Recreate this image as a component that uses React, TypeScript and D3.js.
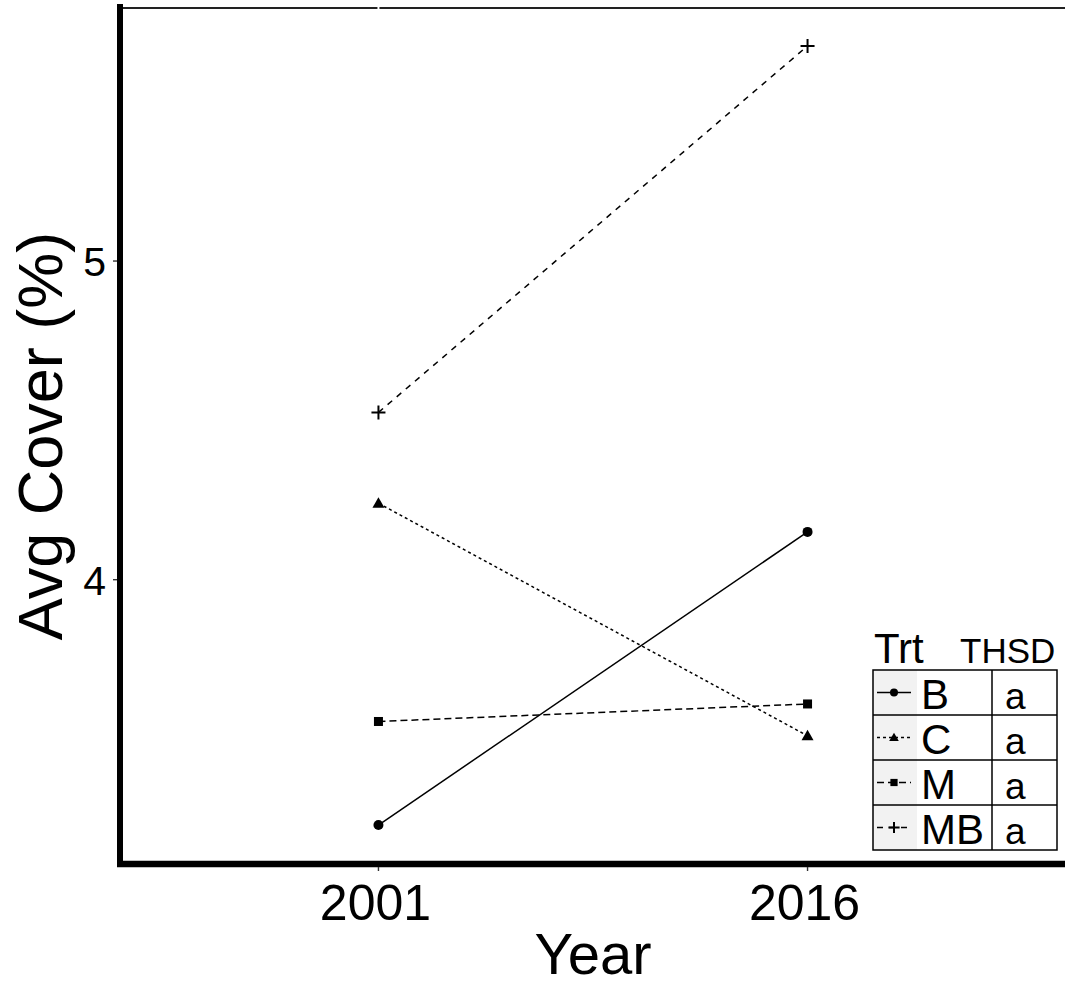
import React, { useEffect, useRef } from 'react';
import * as d3 from 'd3';

// values
const years = ['2001', '2016'];
const treatments = ['B', 'C', 'M', 'MB'];
const thsdGroups = ['a', 'a', 'a', 'a'];
const coverB = [3.23, 4.15];
const coverC = [4.24, 3.51];
const coverM = [3.555, 3.61];
const coverMB = [4.525, 5.675];
const yTickValues = [4, 5];

const FONT = '"Liberation Sans", Arial, Helvetica, sans-serif';

const App = () => {
    const svgRef = useRef<SVGSVGElement>(null);

    useEffect(() => {
        const width = 1065;
        const height = 987;
        const panel = { left: 121, right: 1065, top: 7, bottom: 864 };

        const svg = d3.select(svgRef.current);
        svg.selectAll('*').remove();
        svg.attr('width', width).attr('height', height);

        const series = [
            { name: 'B', values: coverB, dash: null, shape: 'circle' },
            { name: 'C', values: coverC, dash: '3,3', shape: 'triangle' },
            { name: 'M', values: coverM, dash: '7,4', shape: 'square' },
            { name: 'MB', values: coverMB, dash: '6,6', shape: 'plus' }
        ];

        //x scale, ggplot style discrete expansion
        const xScale = d3.scalePoint<string>()
            .domain(years)
            .range([panel.left, panel.right])
            .padding(0.6);

        //y scale with 5% expansion on both sides
        const all = series.flatMap(s => s.values);
        const lo = d3.min(all)!;
        const hi = d3.max(all)!;
        const pad = (hi - lo) * 0.05;
        const yScale = d3.scaleLinear()
            .domain([lo - pad, hi + pad])
            .range([panel.bottom, panel.top]);

        //top border line
        svg.append('line')
            .attr('x1', panel.left).attr('x2', panel.right)
            .attr('y1', panel.top + 1).attr('y2', panel.top + 1)
            .attr('stroke', '#222').attr('stroke-width', 2);

        //white major grid line (only visible where it crosses the border)
        svg.append('line')
            .attr('x1', xScale(years[0])!).attr('x2', xScale(years[0])!)
            .attr('y1', panel.top - 2).attr('y2', panel.top + 4)
            .attr('stroke', '#fff').attr('stroke-width', 2);

        const drawShape = (g: any, shape: string, x: number, y: number, s: number) => {
            if (shape === 'circle') {
                g.append('circle').attr('cx', x).attr('cy', y).attr('r', s / 2).attr('fill', '#000');
            } else if (shape === 'triangle') {
                g.append('path')
                    .attr('d', `M${x},${y - s * 0.6}L${x + s * 0.6},${y + s * 0.45}L${x - s * 0.6},${y + s * 0.45}Z`)
                    .attr('fill', '#000');
            } else if (shape === 'square') {
                g.append('rect')
                    .attr('x', x - s * 0.45).attr('y', y - s * 0.45)
                    .attr('width', s * 0.9).attr('height', s * 0.9)
                    .attr('fill', '#000');
            } else {
                const r = s * 0.7;
                g.append('path')
                    .attr('d', `M${x - r},${y}H${x + r}M${x},${y - r}V${y + r}`)
                    .attr('stroke', '#000').attr('stroke-width', 2).attr('fill', 'none');
            }
        };

        //lines and points
        const line = d3.line<number>()
            .x((_, i) => xScale(years[i])!)
            .y(d => yScale(d));

        series.forEach(s => {
            svg.append('path')
                .datum(s.values)
                .attr('fill', 'none')
                .attr('stroke', '#000')
                .attr('stroke-width', 1.5)
                .attr('stroke-dasharray', s.dash)
                .attr('d', line);
            const g = svg.append('g');
            s.values.forEach((v, i) => drawShape(g, s.shape, xScale(years[i])!, yScale(v), 10));
        });

        //axis lines
        svg.append('line')
            .attr('x1', 120).attr('x2', 120)
            .attr('y1', panel.top - 3).attr('y2', panel.bottom + 3)
            .attr('stroke', '#000').attr('stroke-width', 6);
        svg.append('line')
            .attr('x1', 117).attr('x2', panel.right)
            .attr('y1', panel.bottom).attr('y2', panel.bottom)
            .attr('stroke', '#000').attr('stroke-width', 6.5);

        //x ticks and labels
        years.forEach(yr => {
            const x = xScale(yr)!;
            svg.append('line')
                .attr('x1', x).attr('x2', x)
                .attr('y1', panel.bottom + 3).attr('y2', panel.bottom + 7)
                .attr('stroke', '#333').attr('stroke-width', 1.4);
            svg.append('text')
                .attr('x', x - 3).attr('y', 920)
                .attr('text-anchor', 'middle')
                .attr('font-family', FONT).attr('font-size', 50)
                .attr('fill', '#000')
                .text(yr);
        });

        //y ticks and labels
        yTickValues.forEach(v => {
            const y = yScale(v);
            svg.append('line')
                .attr('x1', 113).attr('x2', 117)
                .attr('y1', y).attr('y2', y)
                .attr('stroke', '#333').attr('stroke-width', 1.4);
            svg.append('text')
                .attr('x', 106).attr('y', y + 15)
                .attr('text-anchor', 'end')
                .attr('font-family', FONT).attr('font-size', 41)
                .attr('fill', '#000')
                .text(d3.format('d')(v));
        });

        //axis titles
        svg.append('text')
            .attr('x', 593).attr('y', 974)
            .attr('text-anchor', 'middle')
            .attr('font-family', FONT).attr('font-size', 58)
            .attr('fill', '#000')
            .text('Year');

        svg.append('text')
            .attr('transform', 'translate(62,436) rotate(-90)')
            .attr('text-anchor', 'middle')
            .attr('font-family', FONT).attr('font-size', 63)
            .attr('fill', '#000')
            .text('Avg Cover (%)');

        //legend
        const leg = { left: 873, keyRight: 917, mid: 992, right: 1057, top: 670, bottom: 850 };
        const rowScale = d3.scaleBand<string>()
            .domain(treatments)
            .range([leg.top, leg.bottom]);

        svg.append('text')
            .attr('x', 874).attr('y', 663)
            .attr('font-family', FONT).attr('font-size', 42)
            .attr('fill', '#000')
            .text('Trt');
        svg.append('text')
            .attr('x', 960).attr('y', 663)
            .attr('font-family', FONT).attr('font-size', 35)
            .attr('fill', '#000')
            .text('THSD');

        svg.append('rect')
            .attr('x', leg.left).attr('y', leg.top)
            .attr('width', leg.keyRight - leg.left).attr('height', leg.bottom - leg.top)
            .attr('fill', '#f2f2f2');

        series.forEach((s, i) => {
            const y0 = rowScale(s.name)!;
            const cy = y0 + rowScale.bandwidth() / 2;
            svg.append('line')
                .attr('x1', 877).attr('x2', 911)
                .attr('y1', cy).attr('y2', cy)
                .attr('stroke', '#000').attr('stroke-width', 1.6)
                .attr('stroke-dasharray', s.dash);
            drawShape(svg.append('g'), s.shape, 894, cy, 8);
            svg.append('text')
                .attr('x', 921).attr('y', y0 + rowScale.bandwidth() - 6)
                .attr('font-family', FONT).attr('font-size', 42)
                .attr('fill', '#000')
                .text(s.name);
            svg.append('text')
                .attr('x', 1005).attr('y', y0 + rowScale.bandwidth() - 6)
                .attr('font-family', FONT).attr('font-size', 37)
                .attr('fill', '#000')
                .text(thsdGroups[i]);
        });

        //legend grid
        treatments.slice(1).forEach(t => {
            const y = rowScale(t)!;
            svg.append('line')
                .attr('x1', leg.left).attr('x2', leg.right)
                .attr('y1', y).attr('y2', y)
                .attr('stroke', '#000').attr('stroke-width', 1.5);
        });
        svg.append('line')
            .attr('x1', leg.mid).attr('x2', leg.mid)
            .attr('y1', leg.top).attr('y2', leg.bottom)
            .attr('stroke', '#000').attr('stroke-width', 1.5);
        svg.append('rect')
            .attr('x', leg.left).attr('y', leg.top)
            .attr('width', leg.right - leg.left).attr('height', leg.bottom - leg.top)
            .attr('fill', 'none')
            .attr('stroke', '#000').attr('stroke-width', 1.5);
    }, []);

    return (
        <svg
            ref={svgRef}
            style={{ position: 'absolute', left: 0, top: 0, display: 'block', background: '#fff' }}
        ></svg>
    );
};

export default App;
